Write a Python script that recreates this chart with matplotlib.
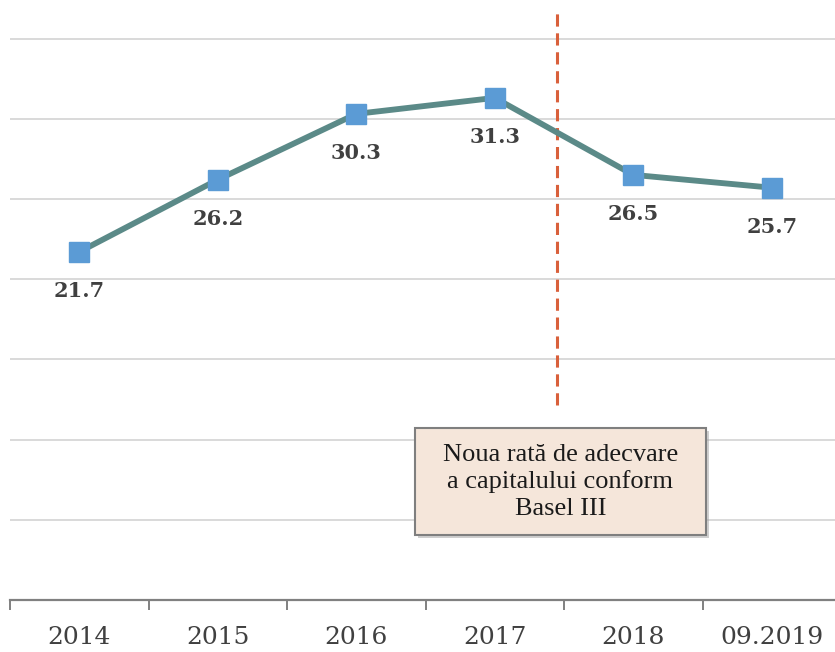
import matplotlib.pyplot as plt
from matplotlib.patches import Rectangle

# data
years = ["2014", "2015", "2016", "2017", "2018", "09.2019"]
ratio = [21.7, 26.2, 30.3, 31.3, 26.5, 25.7]
note = "Noua rată de adecvare\na capitalului conform\nBasel III"

fig = plt.figure(figsize=(8.35, 6.52), dpi=100)
# axes runs a little past the right edge, like the original
ax = fig.add_axes([10 / 835, 52 / 652, 831 / 835, 600 / 652])

x = list(range(len(years)))

# gridlines
for v in range(5, 40, 5):
    ax.axhline(v, color="#d9d9d9", lw=1.4, zorder=0)

ax.plot(x, ratio, color="#5b8a88", lw=4.2, zorder=2)
ax.plot(x, ratio, ls="none", marker="s", ms=14, color="#5b9bd5",
        mec="#5b9bd5", zorder=3)

for xi, v in zip(x, ratio):
    ax.annotate(f"{v:.1f}", (xi, v), xytext=(0, -28), textcoords="offset points",
                ha="center", va="center", fontsize=15, fontweight="bold",
                family="DejaVu Serif", color="#404040")

# Basel III split
ax.plot([3.45, 3.45], [12.15, 36.6], color="#d9603b", lw=2.2,
        ls=(0, (4, 2.2)), zorder=1)

# note box with a small shadow
ax.add_patch(Rectangle((0.4907, 0.103), 0.35, 0.178, transform=ax.transAxes,
                       facecolor="#a0a0a0", edgecolor="none", alpha=0.5, zorder=4))
ax.add_patch(Rectangle((0.4874, 0.108), 0.35, 0.178, transform=ax.transAxes,
                       facecolor="#f5e6da", edgecolor="#7f7f7f", lw=1.5, zorder=5))
ax.text(0.4874 + 0.175, 0.108 + 0.089, note, transform=ax.transAxes,
        ha="center", va="center", fontsize=19, family="Liberation Serif",
        color="#1a1a1a", linespacing=1.25, zorder=6)

ax.set_xlim(-0.5, 5.5)
ax.set_ylim(0, 37.4)
ax.set_yticks([])
ax.set_xticks(x)
ax.set_xticklabels(years, fontsize=18, family="DejaVu Serif", color="#404040")
ax.set_xticks([i - 0.5 for i in range(len(years) + 1)], minor=True)
ax.tick_params(axis="x", which="major", length=0, pad=19)
ax.tick_params(axis="x", which="minor", length=7, width=1.4, color="#808080")

for s in ["top", "right", "left"]:
    ax.spines[s].set_visible(False)
ax.spines["bottom"].set_color("#808080")
ax.spines["bottom"].set_linewidth(1.6)

fig.savefig("out.png", dpi=100)
